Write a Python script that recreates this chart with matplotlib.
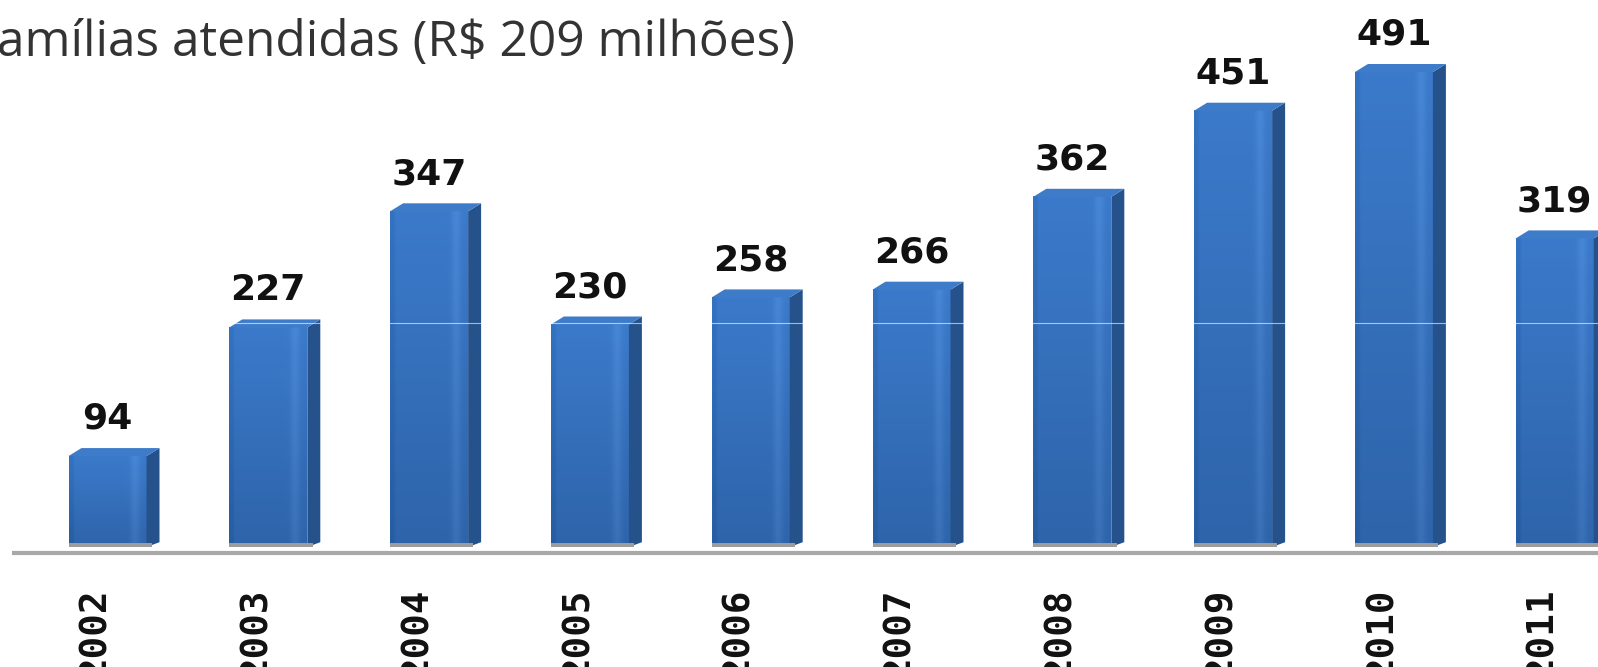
import matplotlib
matplotlib.use('Agg')
import matplotlib.pyplot as plt
import numpy as np
from matplotlib.patches import Polygon, Rectangle
from matplotlib import font_manager

# ---- data ----
years = ['2002', '2003', '2004', '2005', '2006', '2007', '2008', '2009', '2010', '2011']
values = [94, 227, 347, 230, 258, 266, 362, 451, 491, 319]
title_text = 'amílias atendidas (R$ 209 milhões)'

# ---- layout (pixel based) ----
W, H = 1598, 667
fig = plt.figure(figsize=(W / 100, H / 100), dpi=100)
ax = fig.add_axes([0, 0, 1, 1])
ax.axis('off')

px_x0 = 107.5      # pixel centre of first bar
step = 160.8       # pixels between bars
base_px = 547      # pixel row of value 0
unit = 0.9674      # pixels per value unit

ax.set_xlim(-px_x0 / step, (W - px_x0) / step)
ax.set_ylim(-(H - base_px) / unit, base_px / unit)


def pxw(p):
    return p / step


def pxh(p):
    return p / unit


bw = pxw(78)
dx = pxw(13)
dy = pxh(8)

c_top = np.array([0x3B, 0x7A, 0xCA]) / 255
c_bot = np.array([0x2E, 0x64, 0xAA]) / 255

x = np.arange(len(values))
for i, v in zip(x, values):
    xl, xr = i - bw / 2, i + bw / 2
    n, m = 64, 32
    t = np.linspace(0, 1, n)[:, None, None]
    grad = c_top[None, None, :] * (1 - t) + c_bot[None, None, :] * t
    grad = np.repeat(grad, m, axis=1)
    hx = np.linspace(0, 1, m)
    hl = np.exp(-((hx - 0.86) / 0.06) ** 2) * 0.05 - (hx < 0.04) * 0.03
    grad = np.clip(grad + hl[None, :, None], 0, 1)
    ax.imshow(grad, extent=[xl, xr, 0, v], origin='upper', aspect='auto',
              interpolation='bilinear', zorder=2)
    ax.add_patch(Polygon([(xr, 0), (xr, v), (xr + dx, v + dy), (xr + dx, dy * 0.6)],
                         closed=True, facecolor='#26528C', edgecolor='none', zorder=2))
    ax.add_patch(Polygon([(xl, v), (xr, v), (xr + dx, v + dy), (xl + dx, v + dy)],
                         closed=True, facecolor='#3E7CCA', edgecolor='none', zorder=2))
    ax.add_patch(Rectangle((xl, 0), bw + dx * 0.4, pxh(4), facecolor='#9C9C9C',
                           edgecolor='none', zorder=3))
    ax.annotate(str(v), xy=(i, v), xytext=(0, 19.5), textcoords='offset points',
                ha='center', va='baseline', fontsize=26, fontweight='bold',
                family='DejaVu Sans', color='#111111', zorder=4)

# faint light line across bars (invisible on white)
ax.plot([pxw(12 - px_x0), (W - px_x0) / step], [pxh(547 - 323)] * 2,
        color='#FFFFFF', alpha=0.6, lw=0.8, zorder=5)

# axis line
ax.plot([pxw(12 - px_x0), (W - px_x0) / step], [-pxh(5.5)] * 2,
        color='#A8A8A8', lw=3, solid_capstyle='butt', zorder=3)

# year labels (narrow font if available)
names = {f.name for f in font_manager.fontManager.ttflist}
if 'Liberation Sans Narrow' in names:
    yfam, ysize = 'Liberation Sans Narrow', 32
else:
    yfam, ysize = 'DejaVu Sans Mono', 27
for i, yr in zip(x, years):
    ax.text(i - pxw(12), -pxh(588 - base_px), yr, rotation=90, ha='center', va='top',
            fontsize=ysize, fontweight='bold', family=yfam, color='#111111')

# title fragment
fig.text(-0.002, 1 - 56 / H, title_text, fontsize=35.7, family='Open Sans',
         color='#333333', ha='left', va='baseline')

fig.savefig('out.png', dpi=100)
